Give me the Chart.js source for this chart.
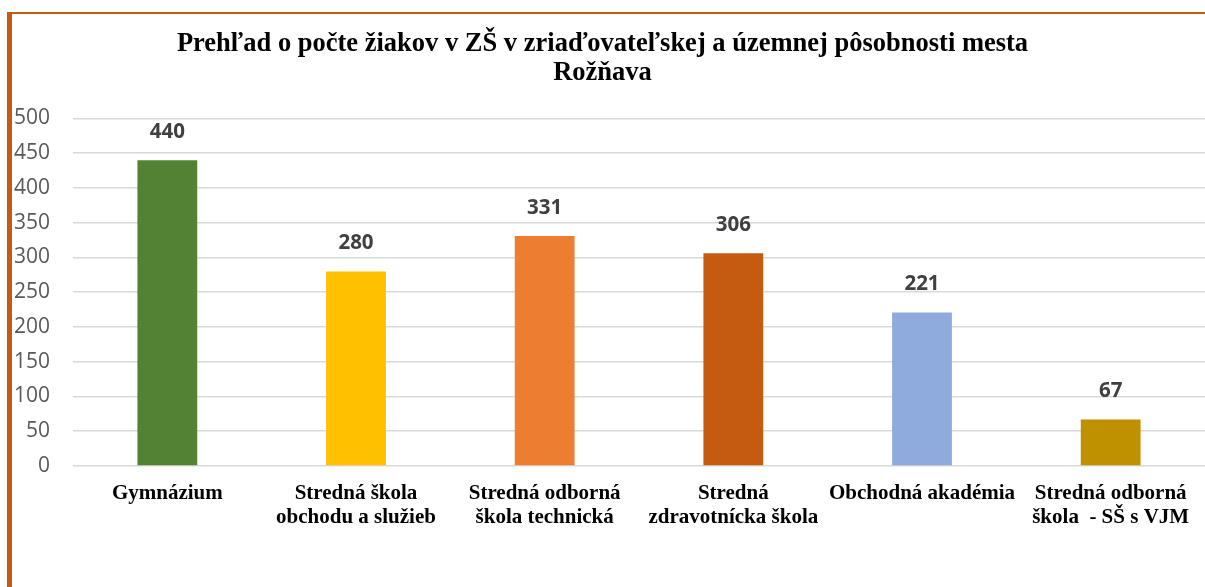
<!DOCTYPE html>
<html>
<head>
<meta charset="utf-8">
<script src="https://cdn.jsdelivr.net/npm/chart.js@4/dist/chart.umd.min.js"></script>
<style>
  html, body { margin: 0; padding: 0; background: #fff; overflow: hidden; }
  #wrap { position: absolute; left: 0; top: 0; width: 1205px; height: 587px; }
  #frame { position: absolute; left: 7px; top: 12px; width: 1210px; height: 600px;
           border-left: 5px solid #C55A11; border-top: 2px solid #C55A11; pointer-events: none; }
</style>
</head>
<body>
<div id="wrap"><canvas id="c" width="1205" height="587"></canvas></div>
<div id="frame"></div>
<script>
const titleLines = ['Prehľad o počte žiakov v ZŠ v zriaďovateľskej a územnej pôsobnosti mesta', 'Rožňava'];
const categories = [
  ['Gymnázium'],
  ['Stredná škola', 'obchodu a služieb'],
  ['Stredná odborná', 'škola technická'],
  ['Stredná', 'zdravotnícka škola'],
  ['Obchodná akadémia'],
  ['Stredná odborná', 'škola  - SŠ s VJM']
];
const values = [440, 280, 331, 306, 221, 67];
const barColors = ['#548235', '#FFC000', '#ED7D31', '#C55A11', '#8FAADC', '#BF9000'];
const yMin = 0, yMax = 500, yStep = 50;

const valueLabels = {
  id: 'valueLabels',
  afterDatasetsDraw(chart) {
    const ctx = chart.ctx;
    const meta = chart.getDatasetMeta(0);
    ctx.save();
    ctx.font = 'bold 20.5px "Open Sans"';
    ctx.fillStyle = '#404040';
    ctx.textAlign = 'center';
    ctx.textBaseline = 'middle';
    meta.data.forEach((bar, i) => {
      ctx.fillText(String(values[i]), bar.x, bar.y - 28);
    });
    ctx.restore();
  }
};

new Chart(document.getElementById('c'), {
  type: 'bar',
  data: {
    labels: categories,
    datasets: [{
      data: values,
      backgroundColor: barColors,
      borderWidth: 0,
      categoryPercentage: 1,
      barPercentage: 0.317
    }]
  },
  options: {
    responsive: false,
    animation: false,
    devicePixelRatio: 1,
    layout: { padding: { left: 0, right: 0, top: 0, bottom: 42 } },
    plugins: {
      legend: { display: false },
      tooltip: { enabled: false },
      title: {
        display: true,
        text: titleLines,
        color: '#000',
        font: { family: '"Liberation Serif"', size: 26.5, weight: 'bold', lineHeight: 1.094 },
        padding: { top: 29.5, bottom: 31 }
      }
    },
    scales: {
      x: {
        grid: { display: false, drawTicks: false },
        border: { display: false },
        ticks: {
          color: '#000',
          font: { family: '"Liberation Serif"', size: 21, weight: 'bold', lineHeight: 1.143 },
          padding: 15.5,
          maxRotation: 0,
          minRotation: 0,
          autoSkip: false
        }
      },
      y: {
        min: yMin,
        max: yMax,
        grid: { color: '#D9D9D9', lineWidth: 1.5, drawTicks: false },
        border: { display: false },
        ticks: {
          stepSize: yStep,
          color: '#595959',
          font: { family: '"Open Sans"', size: 21 },
          padding: 23
        },
        afterFit(scale) { scale.width = 73; }
      }
    }
  },
  plugins: [valueLabels]
});
</script>
</body>
</html>
